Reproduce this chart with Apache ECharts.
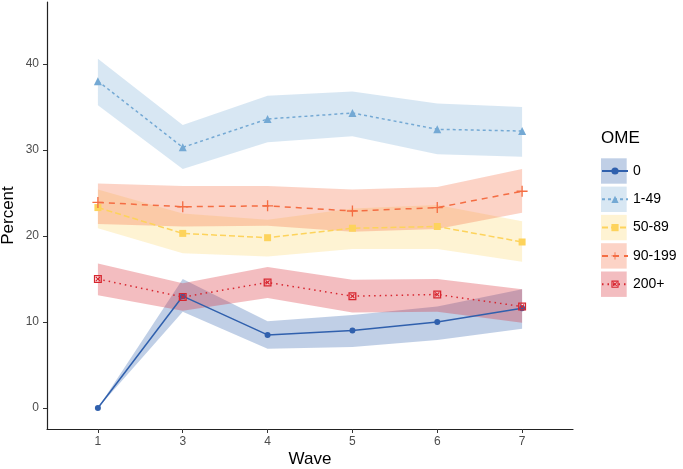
<!DOCTYPE html>
<html>
<head>
<meta charset="utf-8">
<script src="https://cdn.jsdelivr.net/npm/echarts@6/dist/echarts.min.js"></script>
<style>
  html, body { margin: 0; padding: 0; background: #fff; }
  #chart { width: 683px; height: 469px; }
</style>
</head>
<body>
<div id="chart"></div>
<script>
// wave labels (equally spaced on the axis)
const waves = ['1', '3', '4', '5', '6', '7']
const yTicks = [0, 10, 20, 30, 40]
const groups = ['0', '1-49', '50-89', '90-199', '200+']

// estimates + 95% bands, one per OME group
const ome0 = [0, 13.0, 8.5, 9.0, 10.0, 11.6]
const ome0Lo = [0, 11.2, 6.9, 7.1, 7.9, 9.2]
const ome0Hi = [0, 15.0, 10.1, 10.8, 11.8, 13.8]

const ome1 = [38.0, 30.3, 33.6, 34.3, 32.4, 32.2]
const ome1Lo = [35.2, 27.8, 30.9, 31.6, 29.5, 29.2]
const ome1Hi = [40.6, 32.9, 36.3, 36.8, 35.4, 35.0]

const ome50 = [23.3, 20.3, 19.8, 20.9, 21.1, 19.3]
const ome50Lo = [20.9, 18.0, 17.6, 18.5, 18.5, 17.0]
const ome50Hi = [25.4, 22.6, 21.9, 23.2, 23.6, 21.7]

const ome90 = [23.9, 23.4, 23.5, 22.9, 23.3, 25.2]
const ome90Lo = [21.4, 21.1, 21.2, 20.5, 20.8, 22.7]
const ome90Hi = [26.1, 25.8, 25.8, 25.4, 25.7, 27.8]

const ome200 = [15.0, 12.9, 14.6, 13.0, 13.2, 11.8]
const ome200Lo = [13.1, 11.3, 12.8, 11.1, 11.2, 9.9]
const ome200Hi = [16.8, 14.5, 16.4, 14.9, 15.0, 13.8]

const FONT = '"Liberation Sans", Arial, sans-serif'

// square with X (ggplot shape 7) and plus (shape 3)
const squareCross = 'path://M0,0H10V10H0Z M1.6,1.6V8.4H8.4V1.6Z M2,3L3,2L5,4L7,2L8,3L6,5L8,7L7,8L5,6L3,8L2,7L4,5Z'
const plus = 'path://M4.4,0H5.6V4.4H10V5.6H5.6V10H4.4V5.6H0V4.4H4.4Z'

const styles = [
  { color: '#3060ad', fill: 'rgba(48,96,173,0.3)', type: 'solid', symbol: 'circle', size: 6 },
  { color: '#74a9d4', fill: 'rgba(116,169,212,0.28)', type: [3, 3], symbol: 'triangle', size: 8 },
  { color: '#fdd35c', fill: 'rgba(253,211,92,0.27)', type: [6, 3], symbol: 'rect', size: 7 },
  { color: '#f46d43', fill: 'rgba(244,109,67,0.3)', type: [6, 5], symbol: plus, size: 11 },
  { color: '#d7262f', fill: 'rgba(215,38,47,0.3)', type: [1.5, 4], symbol: squareCross, size: 8 }
]
const mids = [ome0, ome1, ome50, ome90, ome200]
const los = [ome0Lo, ome1Lo, ome50Lo, ome90Lo, ome200Lo]
const his = [ome0Hi, ome1Hi, ome50Hi, ome90Hi, ome200Hi]

const pairs = arr => arr.map((v, i) => [i, v])

const bandSeries = []
const lineSeries = []
groups.forEach((g, k) => {
  const s = styles[k]
  // ribbon: one polygon through hi points and back along lo points
  bandSeries.push({
    name: g + '_band', type: 'custom', silent: true, z: 1,
    data: los[k].map((l, i) => [i, l, his[k][i]]),
    encode: { x: 0, y: [1, 2] },
    renderItem: (params, api) => {
      if (params.dataIndex !== 0) return null
      const top = his[k].map((h, i) => api.coord([i, h]))
      const bot = los[k].map((l, i) => api.coord([i, l])).reverse()
      return {
        type: 'polygon',
        shape: { points: top.concat(bot) },
        style: { fill: s.fill }
      }
    }
  })
  lineSeries.push({
    name: g, type: 'line', data: pairs(mids[k]), z: 3,
    symbol: s.symbol, symbolSize: s.size, showAllSymbol: true,
    itemStyle: { color: s.color },
    lineStyle: { color: s.color, width: 1.5, type: s.type }
  })
})

// legend key backgrounds
const keyBoxes = groups.map((g, k) => ({
  type: 'rect',
  shape: { x: 601, y: 158.3 + k * 28.3, width: 25.7, height: 25.4 },
  style: { fill: styles[k].fill },
  z: 0
}))

const chart = echarts.init(document.getElementById('chart'))
chart.setOption({
  animation: false,
  backgroundColor: '#fff',
  textStyle: { fontFamily: FONT },
  grid: { left: 47, right: 110, top: 2, bottom: 40, containLabel: false, outerBoundsMode: 'none' },
  title: {
    text: 'OME', left: 601, top: 130, padding: 0,
    textStyle: { fontFamily: FONT, fontSize: 17, fontWeight: 'normal', color: '#000' }
  },
  legend: {
    data: groups, orient: 'vertical', left: 601, top: 164, padding: 0,
    itemWidth: 26, itemHeight: 9, itemGap: 14.3,
    textStyle: { fontFamily: FONT, fontSize: 14, color: '#000' }
  },
  graphic: keyBoxes,
  xAxis: {
    type: 'value', min: -0.6, max: 5.6,
    name: 'Wave', nameLocation: 'middle', nameGap: 22, nameMoveOverlap: false,
    nameTextStyle: { fontFamily: FONT, fontSize: 17, color: '#000' },
    axisLine: { show: true, onZero: false, lineStyle: { color: '#222', width: 1.2 } },
    axisTick: { show: true, length: 4, customValues: [0, 1, 2, 3, 4, 5], lineStyle: { color: '#333' } },
    axisLabel: {
      customValues: [0, 1, 2, 3, 4, 5], margin: 7,
      fontFamily: FONT, fontSize: 12, color: '#4d4d4d',
      formatter: v => waves[Math.round(v)]
    },
    splitLine: { show: false }
  },
  yAxis: {
    type: 'value', min: -2.44, max: 47.2,
    name: 'Percent', nameLocation: 'middle', nameGap: 30, nameMoveOverlap: false,
    nameTextStyle: { fontFamily: FONT, fontSize: 17, color: '#000' },
    axisLine: { show: true, onZero: false, lineStyle: { color: '#222', width: 1.2 } },
    axisTick: { show: true, length: 4, customValues: yTicks, lineStyle: { color: '#333' } },
    axisLabel: {
      customValues: yTicks, margin: 8,
      fontFamily: FONT, fontSize: 12, color: '#4d4d4d'
    },
    splitLine: { show: false }
  },
  series: bandSeries.concat(lineSeries)
})
</script>
</body>
</html>
